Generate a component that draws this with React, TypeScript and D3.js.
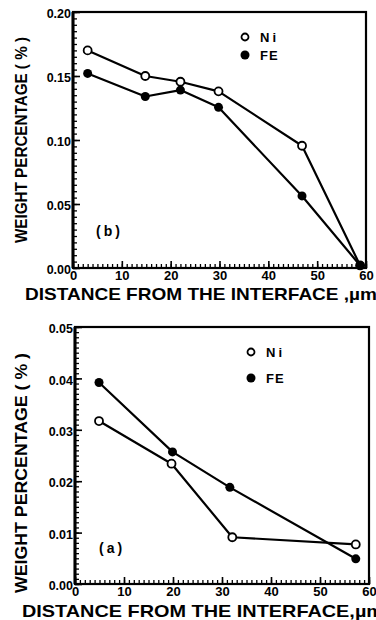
import React, { useEffect, useRef } from 'react';
import * as d3 from 'd3';

// panel (b) - upper chart
const distB = [3, 14.8, 22, 29.8, 46.9, 58.8];
const niB = [0.170, 0.150, 0.1455, 0.138, 0.0955, 0.002];
const feB = [0.152, 0.134, 0.139, 0.1255, 0.0563, 0.002];

// panel (a) - lower chart
const distANi = [4.9, 19.7, 32.1, 57.3];
const niA = [0.0317, 0.0234, 0.0091, 0.0077];
const distAFe = [4.9, 19.9, 31.6, 57.3];
const feA = [0.0392, 0.0257, 0.0188, 0.0049];

const xTicks = [0, 10, 20, 30, 40, 50, 60];
const yTicksB = [0, 0.05, 0.1, 0.15, 0.2];
const yTicksA = [0, 0.01, 0.02, 0.03, 0.04, 0.05];

const seriesNames = ['Ni', 'FE'];
const xTitle = 'DISTANCE FROM THE INTERFACE ,\u00b5m';
const xTitleA = 'DISTANCE FROM THE INTERFACE,\u00b5m';
const yTitle = 'WEIGHT PERCENTAGE ( % )';

const FONT = '"Liberation Sans", Arial, sans-serif';

function Panel({ cfg }) {
  const gRef = useRef();

  useEffect(() => {
    const g = d3.select(gRef.current);
    g.selectAll('*').remove();

    const x = d3.scaleLinear().domain([0, 60]).range(cfg.xRange);
    const y = d3.scaleLinear().domain([0, cfg.yMax]).range(cfg.yRange);

    // minor ticks, pointing inward
    const xMinor = d3.range(0, 61, 1);
    const yMinor = d3.range(0, cfg.yMax + cfg.yMinorStep / 2, cfg.yMinorStep);

    g.append('g')
      .attr('transform', `translate(0,${cfg.yRange[0]})`)
      .call(d3.axisBottom(x).tickValues(xMinor).tickSize(-4).tickFormat(() => ''))
      .call(s => s.select('.domain').remove())
      .selectAll('line').attr('stroke', '#000').attr('stroke-width', 1.3);

    g.append('g')
      .attr('transform', `translate(${cfg.xRange[0]},0)`)
      .call(d3.axisLeft(y).tickValues(yMinor).tickSize(-4).tickFormat(() => ''))
      .call(s => s.select('.domain').remove())
      .selectAll('line').attr('stroke', '#000').attr('stroke-width', 1.3);

    // major ticks + labels
    const xa = g.append('g')
      .attr('transform', `translate(0,${cfg.yRange[0]})`)
      .call(d3.axisBottom(x).tickValues(xTicks).tickSizeInner(-7).tickSizeOuter(0).tickPadding(3).tickFormat(d3.format('d')));
    xa.select('.domain').remove();
    xa.selectAll('line').attr('stroke', '#000').attr('stroke-width', 1.6);
    xa.selectAll('text')
      .attr('font-family', FONT).attr('font-weight', 'bold').attr('font-size', 13).attr('fill', '#000');

    const ya = g.append('g')
      .attr('transform', `translate(${cfg.xRange[0]},0)`)
      .call(d3.axisLeft(y).tickValues(cfg.yTicks).tickSizeInner(-7).tickSizeOuter(0).tickPadding(2).tickFormat(d3.format('.2f')));
    ya.select('.domain').remove();
    ya.selectAll('line').attr('stroke', '#000').attr('stroke-width', 1.6);
    ya.selectAll('text')
      .attr('font-family', FONT).attr('font-weight', 'bold').attr('font-size', 12.5).attr('fill', '#000')
      .attr('dy', '0.45em');

    // frame
    g.append('rect')
      .attr('x', x(0)).attr('y', y(cfg.yMax))
      .attr('width', x(60) - x(0)).attr('height', y(0) - y(cfg.yMax))
      .attr('fill', 'none').attr('stroke', '#000').attr('stroke-width', 2.2);
    g.append('line')
      .attr('x1', x(0)).attr('x2', x(0)).attr('y1', y(cfg.yMax)).attr('y2', y(0))
      .attr('stroke', '#000').attr('stroke-width', 3);

    const line = d3.line().x(d => x(d[0])).y(d => y(d[1]));
    const ni = cfg.ni[0].map((d, i) => [d, cfg.ni[1][i]]);
    const fe = cfg.fe[0].map((d, i) => [d, cfg.fe[1][i]]);

    [ni, fe].forEach(pts => {
      g.append('path').attr('d', line(pts))
        .attr('fill', 'none').attr('stroke', '#000').attr('stroke-width', 2.2)
        .attr('stroke-linejoin', 'round');
    });

    g.selectAll('.ni').data(ni).join('circle').attr('class', 'ni')
      .attr('cx', d => x(d[0])).attr('cy', d => y(d[1])).attr('r', 4)
      .attr('fill', '#fff').attr('stroke', '#000').attr('stroke-width', 1.8);
    g.selectAll('.fe').data(fe).join('circle').attr('class', 'fe')
      .attr('cx', d => x(d[0])).attr('cy', d => y(d[1])).attr('r', 4.5)
      .attr('fill', '#000');

    // legend
    const lg = g.append('g').attr('transform', `translate(${cfg.legend[0]},${cfg.legend[1]})`);
    seriesNames.forEach((name, i) => {
      lg.append('circle').attr('cx', 0).attr('cy', i * cfg.legendGap).attr('r', i === 0 ? 3.5 : 4.5)
        .attr('fill', i === 0 ? '#fff' : '#000').attr('stroke', '#000').attr('stroke-width', i === 0 ? 1.8 : 0);
      lg.append('text').attr('x', 15).attr('y', i * cfg.legendGap).attr('dy', '0.36em')
        .attr('font-family', FONT).attr('font-weight', 'bold').attr('font-size', 13)
        .attr('letter-spacing', i === 0 ? 3 : 1).text(name);
    });

    g.append('text')
      .attr('x', cfg.tag[0]).attr('y', cfg.tag[1])
      .attr('font-family', FONT).attr('font-weight', 'bold').attr('font-size', 14)
      .attr('letter-spacing', 3).text(cfg.tagText);

    // axis titles
    g.append('text')
      .attr('x', cfg.xTitlePos[0]).attr('y', cfg.xTitlePos[1])
      .attr('font-family', FONT).attr('font-weight', 'bold').attr('font-size', 17)
      .attr('textLength', cfg.xTitleLen).attr('lengthAdjust', 'spacingAndGlyphs')
      .text(cfg.xTitleText);

    g.append('text')
      .attr('transform', `translate(${cfg.yTitlePos[0]},${cfg.yTitlePos[1]}) rotate(-90)`)
      .attr('text-anchor', 'middle')
      .attr('font-family', FONT).attr('font-weight', 'bold').attr('font-size', 17)
      .attr('textLength', cfg.yTitleLen).attr('lengthAdjust', 'spacingAndGlyphs')
      .text(yTitle);
  }, [cfg]);

  return <g ref={gRef} />;
}

const panelB = {
  xRange: [73, 366], yRange: [268, 12], yMax: 0.2, yTicks: yTicksB, yMinorStep: 0.005,
  ni: [distB, niB], fe: [distB, feB],
  legend: [245, 37], legendGap: 18,
  tag: [96, 236], tagText: '(b)',
  xTitlePos: [25, 300], xTitleLen: 352, xTitleText: xTitle,
  yTitlePos: [27, 140], yTitleLen: 206,
};

const panelA = {
  xRange: [75, 369], yRange: [584, 327], yMax: 0.05, yTicks: yTicksA, yMinorStep: 0.001,
  ni: [distANi, niA], fe: [distAFe, feA],
  legend: [251, 352], legendGap: 26,
  tag: [99, 553], tagText: '(a)',
  xTitlePos: [22, 617], xTitleLen: 362, xTitleText: xTitleA,
  yTitlePos: [27, 473], yTitleLen: 240,
};

export default function App() {
  return (
    <svg width={376} height={620} style={{ position: 'absolute', left: 0, top: 0, background: '#fff' }}>
      <Panel cfg={panelB} />
      <Panel cfg={panelA} />
    </svg>
  );
}
